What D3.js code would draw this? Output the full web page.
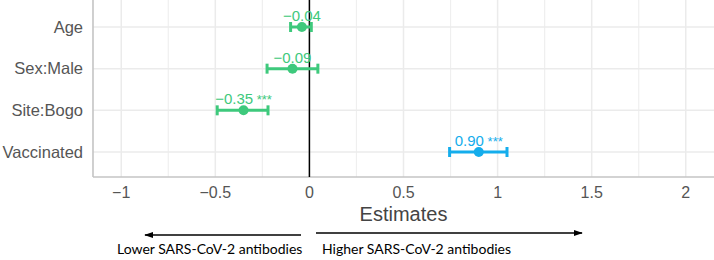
<!DOCTYPE html>
<html>
<head>
<meta charset="utf-8">
<script src="https://cdn.jsdelivr.net/npm/d3@7"></script>
<style>
  body { margin: 0; background: #fff; }
  svg { display: block; }
</style>
</head>
<body>
<script>
const terms = ["Age", "Sex:Male", "Site:Bogo", "Vaccinated"];
const estimates = [-0.04, -0.09, -0.35, 0.90];
const ciLow = [-0.10, -0.225, -0.49, 0.745];
const ciHigh = [0.01, 0.045, -0.22, 1.05];
const stars = ["", "", "***", "***"];
const xTicks = [-1, -0.5, 0, 0.5, 1, 1.5, 2];
const xMinor = [-0.75, -0.25, 0.25, 0.75, 1.25, 1.75];

const width = 714, height = 260;
const panel = {left: 93, right: 714, top: 0, bottom: 177};

const green = "#3ec97c", blue = "#14adec";

const svg = d3.select("body").append("svg")
    .attr("width", width)
    .attr("height", height);

const x = d3.scaleLinear()
    .domain([-1.15, 2.15])
    .range([panel.left, panel.right]);

const y = d3.scalePoint()
    .domain(terms)
    .range([27, 152]);

const font = "'Liberation Sans', Arial, Helvetica, sans-serif";

// grid
svg.selectAll(".minor")
    .data(xMinor)
    .enter().append("line")
    .attr("x1", d => x(d)).attr("x2", d => x(d))
    .attr("y1", panel.top).attr("y2", panel.bottom)
    .style("stroke", "#efefef")
    .style("stroke-width", 1.2);

svg.selectAll(".major")
    .data(xTicks)
    .enter().append("line")
    .attr("x1", d => x(d)).attr("x2", d => x(d))
    .attr("y1", panel.top).attr("y2", panel.bottom)
    .style("stroke", "#ebebeb")
    .style("stroke-width", 1.5);

svg.selectAll(".hgrid")
    .data(terms)
    .enter().append("line")
    .attr("x1", panel.left).attr("x2", panel.right)
    .attr("y1", d => y(d)).attr("y2", d => y(d))
    .style("stroke", "#ebebeb")
    .style("stroke-width", 1.5);

// axis lines
svg.append("line")
    .attr("x1", panel.left).attr("x2", panel.left)
    .attr("y1", panel.top).attr("y2", panel.bottom)
    .style("stroke", "#c4c4c4")
    .style("stroke-width", 1.6);
svg.append("line")
    .attr("x1", panel.left).attr("x2", panel.right)
    .attr("y1", panel.bottom).attr("y2", panel.bottom)
    .style("stroke", "#c4c4c4")
    .style("stroke-width", 1.6);

// zero line
svg.append("line")
    .attr("x1", x(0)).attr("x2", x(0))
    .attr("y1", panel.top).attr("y2", panel.bottom)
    .style("stroke", "#000")
    .style("stroke-width", 1.5);

// tick labels
svg.selectAll(".ylab")
    .data(terms)
    .enter().append("text")
    .attr("x", 83)
    .attr("y", d => y(d))
    .attr("dy", "0.35em")
    .attr("text-anchor", "end")
    .style("font-family", font)
    .style("font-size", "16.5px")
    .style("fill", "#555")
    .text(d => d);

svg.selectAll(".xlab")
    .data(xTicks)
    .enter().append("text")
    .attr("x", d => x(d))
    .attr("y", 198)
    .attr("text-anchor", "middle")
    .style("font-family", font)
    .style("font-size", "16px")
    .style("fill", "#555")
    .text(d => d3.format("")(d).replace("-", "\u2212"));

svg.append("text")
    .attr("x", x(0.5))
    .attr("y", 221)
    .attr("text-anchor", "middle")
    .style("font-family", font)
    .style("font-size", "20px")
    .style("fill", "#444")
    .text("Estimates");

// estimates
const rows = terms.map((t, i) => ({
    term: t, est: estimates[i], lo: ciLow[i], hi: ciHigh[i], stars: stars[i]
}));
const col = d => d.est < 0 ? green : blue;

const g = svg.selectAll(".est")
    .data(rows)
    .enter().append("g");

g.append("line")
    .attr("x1", d => x(d.lo)).attr("x2", d => x(d.hi))
    .attr("y1", d => y(d.term)).attr("y2", d => y(d.term))
    .style("stroke", col)
    .style("stroke-width", 3);

[["lo"], ["hi"]].forEach(([k]) => {
    g.append("line")
        .attr("x1", d => x(d[k])).attr("x2", d => x(d[k]))
        .attr("y1", d => y(d.term) - 5).attr("y2", d => y(d.term) + 5)
        .style("stroke", col)
        .style("stroke-width", 3);
});

g.append("circle")
    .attr("cx", d => x(d.est))
    .attr("cy", d => y(d.term))
    .attr("r", 5)
    .style("fill", col);

const lab = g.append("text")
    .attr("x", d => x(d.est))
    .attr("y", d => y(d.term) - 6)
    .attr("text-anchor", "middle")
    .style("font-family", font)
    .style("font-size", "15px")
    .style("fill", col);
lab.append("tspan")
    .text(d => d3.format(".2f")(d.est).replace("-", "\u2212"));
lab.append("tspan")
    .style("font-size", "13px")
    .text(d => d.stars ? " " + d.stars : "");

// direction arrows
svg.append("defs").append("marker")
    .attr("id", "arrow")
    .attr("viewBox", "0 0 10 10")
    .attr("refX", 9).attr("refY", 5)
    .attr("markerWidth", 6).attr("markerHeight", 6)
    .attr("orient", "auto")
    .append("path")
    .attr("d", "M0,1.5L10,5L0,8.5Z")
    .style("fill", "#000");

svg.append("line")
    .attr("x1", 301).attr("x2", 145)
    .attr("y1", 235).attr("y2", 235)
    .style("stroke", "#000")
    .style("stroke-width", 1.5)
    .attr("marker-end", "url(#arrow)");

svg.append("line")
    .attr("x1", 316).attr("x2", 582)
    .attr("y1", 233).attr("y2", 233)
    .style("stroke", "#000")
    .style("stroke-width", 1.5)
    .attr("marker-end", "url(#arrow)");

svg.append("text")
    .attr("x", 117).attr("y", 254)
    .style("font-family", "Lato, 'Open Sans', sans-serif")
    .style("font-size", "14px")
    .style("fill", "#000")
    .text("Lower SARS-CoV-2 antibodies");

svg.append("text")
    .attr("x", 322).attr("y", 254)
    .style("font-family", "Lato, 'Open Sans', sans-serif")
    .style("font-size", "14px")
    .style("fill", "#000")
    .text("Higher SARS-CoV-2 antibodies");
</script>
</body>
</html>
